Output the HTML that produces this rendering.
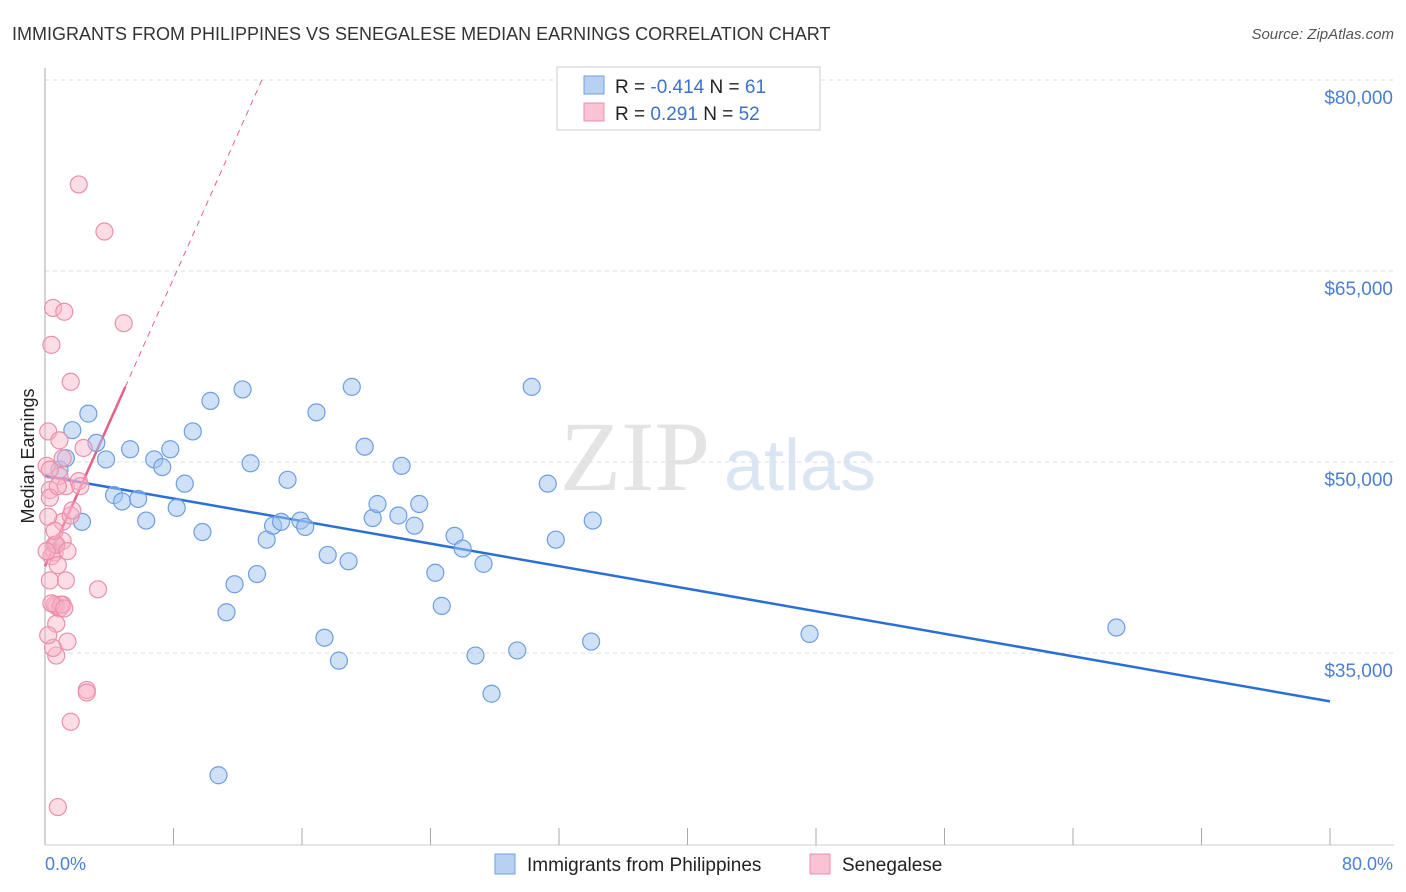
<!DOCTYPE html>
<html><head><meta charset="utf-8">
<style>
body{margin:0;background:#fff;font-family:"Liberation Sans",sans-serif;}
svg{display:block}
</style></head>
<body>
<svg id="chart" width="1406" height="892" xmlns="http://www.w3.org/2000/svg">
<text x="12" y="40" font-size="18" fill="#333">IMMIGRANTS FROM PHILIPPINES VS SENEGALESE MEDIAN EARNINGS CORRELATION CHART</text>
<text x="1394" y="39" font-size="15" fill="#555" font-style="italic" text-anchor="end">Source: ZipAtlas.com</text>
<text x="635" y="490" font-size="100" fill="#e4e4e4" font-family="Liberation Serif" text-anchor="middle">ZIP</text>
<text x="800" y="490" font-size="72" fill="#dbe6f5" text-anchor="middle">atlas</text>
<g id="grid"></g>
<line x1="45" y1="68" x2="45" y2="845" stroke="#aaa"/>
<line x1="45" y1="845" x2="1394" y2="845" stroke="#ccc"/>
<g id="xticks"></g>
<text transform="translate(34,456) rotate(-90)" font-size="18" fill="#222" text-anchor="middle">Median Earnings</text>
<text x="45" y="870" font-size="18" fill="#4a7fd4">0.0%</text>
<text x="1393" y="870" font-size="18" fill="#4a7fd4" text-anchor="end">80.0%</text>
<g id="trends"></g>
<g id="points"></g>
<g>
<rect x="557" y="67" width="263" height="63" fill="#fff" stroke="#ccc"/>
<rect x="584" y="76" width="20" height="18" fill="#b8d1f3" stroke="#6e9ee0"/>
<rect x="584" y="103" width="20" height="18" fill="#f9c3d3" stroke="#ec8fab"/>
<text x="615" y="93" font-size="19" fill="#222">R = <tspan fill="#3a72cf">-0.414</tspan>   N = <tspan fill="#3a72cf"> 61</tspan></text>
<text x="615" y="120" font-size="19" fill="#222">R = <tspan fill="#3a72cf">  0.291</tspan>   N = <tspan fill="#3a72cf">52</tspan></text>
</g>
<g>
<rect x="495" y="854" width="20" height="20" fill="#b8d1f3" stroke="#6e9ee0"/>
<text x="527" y="871" font-size="19" fill="#222">Immigrants from Philippines</text>
<rect x="810" y="854" width="20" height="20" fill="#f9c3d3" stroke="#ec8fab"/>
<text x="842" y="871" font-size="19" fill="#222">Senegalese</text>
</g>
</svg>
<script>
const yTicks=[35000,50000,65000,80000];
const yTickLabels=["$35,000","$50,000","$65,000","$80,000"];
const blueX=[0.7,0.9,1.3,1.7,2.3,2.7,3.2,3.8,4.3,4.8,5.3,5.8,6.3,6.8,7.3,7.8,8.2,8.7,9.2,9.8,10.3,10.8,11.3,11.8,12.3,12.8,13.2,13.8,14.2,14.7,15.1,15.9,16.2,16.9,17.6,17.4,18.3,18.9,19.1,19.9,20.4,20.7,22.0,22.2,23.0,23.3,24.3,24.7,25.5,26.0,26.8,27.3,27.8,29.4,30.3,31.3,31.8,34.0,34.1,47.6,66.7];
const blueY=[43500,49400,50300,52500,45300,53800,51500,50200,47400,46900,51000,47100,45400,50200,49600,51000,46400,48300,52400,44500,54800,25400,38200,40400,55700,49900,41200,43900,45000,45300,48600,45400,44900,53900,42700,36200,34400,42200,55900,51200,45600,46700,45800,49700,45000,46700,41300,38700,44200,43200,34800,42000,31800,35200,55900,48300,43900,35900,45400,36500,37000];
const pinkX=[0.1,0.3,0.4,0.5,0.6,0.7,0.7,0.8,0.9,1.1,1.2,1.6,1.6,1.6,2.1,2.4,2.6,2.6,3.3,3.7,4.9,1.3,0.9,1.1,1.4,0.6,0.3,0.2,0.4,0.6,0.8,1.1,0.5,0.2,0.3,0.7,1.3,2.1,0.9,1.0,0.1,0.3,1.1,0.6,1.4,0.4,0.7,0.2,1.2,1.7,2.2,0.8];
const pinkY=[49700,47800,59200,62100,43500,38700,34800,22900,48900,45300,61800,56300,29600,45800,71800,51100,32100,31900,40000,68100,60900,40700,38500,38800,35900,42900,47200,45700,42600,38800,41900,43800,35400,52400,49400,43500,48100,48500,51700,38800,43000,40700,50300,44600,43000,38900,37300,36400,38500,46200,48100,48100];
const X=p=>45+p*1285/80;
const Y=v=>462-(v-50000)*191/15000;
const NS="http://www.w3.org/2000/svg";
function mk(tag,attrs,parent){const e=document.createElementNS(NS,tag);for(const k in attrs)e.setAttribute(k,attrs[k]);document.getElementById(parent).appendChild(e);return e;}
yTicks.forEach((v,i)=>{
 const l=mk('line',{x1:45,x2:1394,y1:Y(v),y2:Y(v),stroke:'#ddd','stroke-dasharray':'4,4'},'grid');
 
 
 const t=mk('text',{x:1393,y:Y(v)+24,'font-size':19,fill:'#4a7fd4','text-anchor':'end'},'grid');
 t.textContent=yTickLabels[i];
 
 
});
for(let i=1;i<=10;i++){
 const l=mk('line',{x1:X(i*8),x2:X(i*8),y1:828,y2:845,stroke:'#aaa'},'xticks');
 
 
}
let t1=mk('line',{x1:X(0),y1:Y(48900),x2:X(80),y2:Y(31200),stroke:'#2a6fd6','stroke-width':2.5},'trends');


let t2=mk('line',{x1:X(5),y1:Y(55900),x2:X(13.5),y2:Y(80000),stroke:'#e8608a','stroke-width':1,'stroke-dasharray':'6,5'},'trends');


let t3=mk('line',{x1:X(0),y1:Y(41800),x2:X(5),y2:Y(55900),stroke:'#e8608a','stroke-width':2.5},'trends');


blueX.forEach((x,i)=>{
 const c=mk('circle',{cx:X(x),cy:Y(blueY[i]),r:8.5,fill:'rgba(160,195,240,0.5)',stroke:'#6e9ee0','stroke-width':1.2},'points');
 
 
});
pinkX.forEach((x,i)=>{
 const c=mk('circle',{cx:X(x),cy:Y(pinkY[i]),r:8.5,fill:'rgba(248,180,200,0.45)',stroke:'#ec8fab','stroke-width':1.2},'points');
 
 
});
</script>
</body></html>
